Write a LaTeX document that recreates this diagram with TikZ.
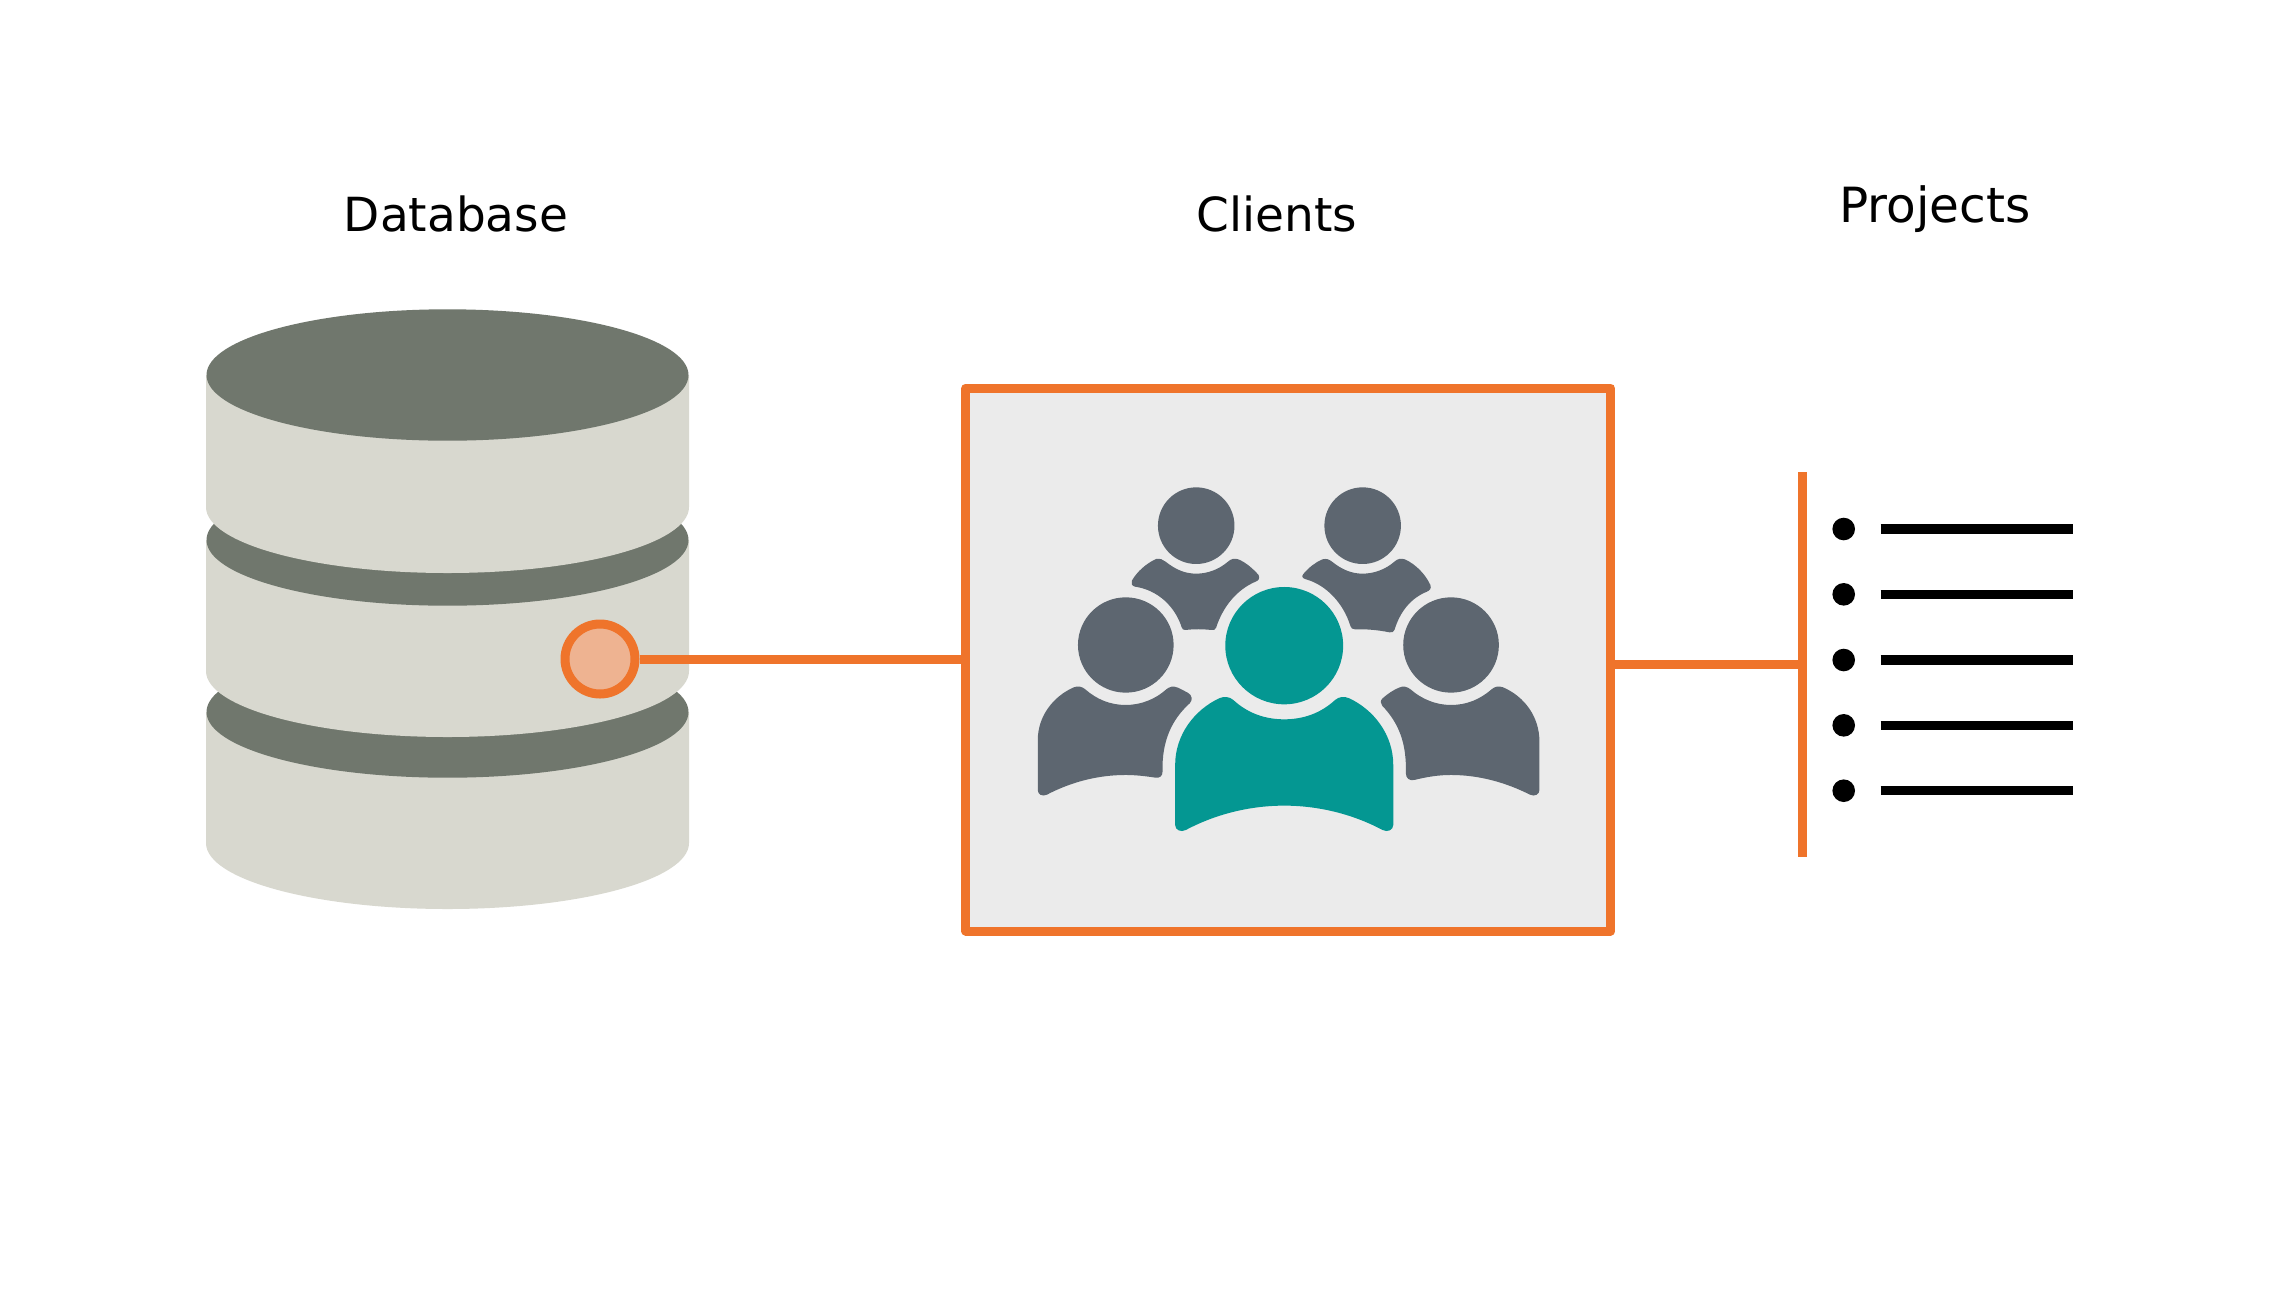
\documentclass[tikz,border=0pt]{standalone}
\usepackage{fontspec}
\setmainfont{DejaVu Sans}
\definecolor{orangeC}{HTML}{EF742B}
\definecolor{peach}{HTML}{EEB391}
\definecolor{dark}{HTML}{70776D}
\definecolor{pale}{HTML}{D8D8CF}
\definecolor{panel}{HTML}{EBEBEB}
\definecolor{slateC}{HTML}{5D6670}
\definecolor{tealC}{HTML}{049792}
\tikzset{
 title/.style={font=\fontsize{47}{56}\selectfont,text=black,inner sep=0pt,anchor=base},
 wire/.style={draw=orangeC,line width=9pt},
 bulletdot/.style={circle,fill=black,minimum size=22.6pt,inner sep=0pt},
 rowline/.style={draw=black,line width=9.4pt},
 diskbody/.style={fill=pale},
 disktop/.style={fill=dark},
}
\newcommand{\disk}[2]{% top centre y, bottom centre y
 \fill[diskbody] (206,#1) -- (206,#2) arc [start angle=180,end angle=0,x radius=241.5,y radius=66] -- (689,#1) -- cycle;
 \fill[disktop] (447.5,#1) ellipse [x radius=241,y radius=65.7];
}
\begin{document}
\begin{tikzpicture}[x=1pt,y=-1pt]
\useasboundingbox (0,0) rectangle (2290,1288);
\fill[white] (0,0) rectangle (2290,1288);
% database
\disk{712}{843}
\disk{540}{671}
\disk{375}{507}
\node[title] (tdb) at (456,231) {Database};
\node[title] (tcl) at (1277,231) {Clients};
\node[title,font=\fontsize{48.5}{58}\selectfont] (tpr) at (1935,222) {Projects};
% clients box
\node[draw=orangeC,fill=panel,line width=9pt,line join=round,minimum width=644.7pt,minimum height=543pt,inner sep=0pt] (clients) at (1288.3,659.5) {};
% people
\begin{scope}[shift={(980,460)},x=0.38265pt,y=-0.3333pt]
\fill[slateC] (565,197) ellipse [x radius=100,y radius=115];
\fill[slateC] (1000,197) ellipse [x radius=100,y radius=115];
\fill[slateC] (381,555) ellipse [x radius=125,y radius=143];
\fill[slateC] (1231,555) ellipse [x radius=125,y radius=143];
\fill[tealC] (795,557) ellipse [x radius=154,y radius=176];
% back left
\fill[slateC] (397,362) .. controls (410,335) and (435,310) .. (460,297) .. controls (470,295) and (478,298) .. (485,305)
 .. controls (510,328) and (535,341) .. (565,341) .. controls (595,341) and (625,328) .. (648,305) .. controls (655,297) and (665,294) .. (675,298)
 .. controls (695,307) and (715,328) .. (728,345) .. controls (732,355) and (728,362) .. (720,365)
 .. controls (670,390) and (635,440) .. (617,503) .. controls (615,510) and (610,511) .. (605,510)
 .. controls (580,507) and (560,507) .. (537,510) .. controls (532,511) and (528,507) .. (527,502)
 .. controls (510,440) and (465,390) .. (405,380) .. controls (397,378) and (394,370) .. (397,362) -- cycle;
% back right
\fill[slateC] (845,342) .. controls (860,322) and (875,308) .. (895,298) .. controls (905,295) and (912,298) .. (920,305)
 .. controls (945,328) and (970,341) .. (1000,341) .. controls (1030,341) and (1060,328) .. (1083,305) .. controls (1090,297) and (1100,294) .. (1110,298)
 .. controls (1140,313) and (1165,345) .. (1177,375) .. controls (1180,385) and (1176,391) .. (1168,395)
 .. controls (1125,415) and (1098,455) .. (1083,510) .. controls (1081,516) and (1077,518) .. (1070,517)
 .. controls (1040,510) and (1010,507) .. (980,508) .. controls (973,508) and (970,505) .. (968,498)
 .. controls (950,430) and (905,375) .. (852,358) .. controls (842,355) and (840,350) .. (845,342) -- cycle;
% left
\fill[slateC] (151,840) .. controls (151,770) and (190,710) .. (245,682) .. controls (257,677) and (267,680) .. (275,688)
 .. controls (305,718) and (340,735) .. (381,735) .. controls (420,735) and (458,718) .. (487,688) .. controls (495,680) and (505,677) .. (517,683)
 -- (543,698) .. controls (554,705) and (557,720) .. (548,730)
 .. controls (500,780) and (475,845) .. (477,935) .. controls (477,948) and (470,955) .. (458,953)
 .. controls (430,948) and (405,945) .. (381,945) .. controls (310,945) and (240,965) .. (175,1004)
 .. controls (162,1011) and (151,1003) .. (151,990) -- cycle;
% right
\fill[slateC] (1462,845) .. controls (1462,770) and (1423,710) .. (1367,682) .. controls (1355,677) and (1345,680) .. (1337,688)
 .. controls (1307,718) and (1272,735) .. (1231,735) .. controls (1192,735) and (1155,718) .. (1125,688) .. controls (1117,680) and (1105,677) .. (1095,683)
 .. controls (1080,690) and (1065,702) .. (1052,715) .. controls (1046,722) and (1046,730) .. (1051,737)
 .. controls (1095,790) and (1115,850) .. (1113,940) .. controls (1113,955) and (1122,963) .. (1135,960)
 .. controls (1170,950) and (1200,945) .. (1231,945) .. controls (1305,945) and (1375,968) .. (1437,1004)
 .. controls (1450,1011) and (1462,1003) .. (1462,990) -- cycle;
% front
\fill[tealC] (510,915) .. controls (510,825) and (560,750) .. (625,715) .. controls (638,708) and (652,710) .. (662,720)
 .. controls (700,760) and (745,778) .. (795,778) .. controls (845,778) and (890,760) .. (928,720) .. controls (938,710) and (952,708) .. (965,715)
 .. controls (1030,750) and (1080,825) .. (1080,915) -- (1080,1095) .. controls (1080,1110) and (1065,1118) .. (1052,1110)
 .. controls (970,1060) and (880,1037) .. (795,1037) .. controls (710,1037) and (620,1060) .. (538,1110)
 .. controls (525,1118) and (510,1110) .. (510,1095) -- cycle;
\end{scope}
% port and connectors
\node[circle,draw=orangeC,fill=peach,line width=9pt,minimum size=70pt,inner sep=0pt] (port) at (600,659) {};
\draw[wire] (port.east) -- (port.east -| clients.west);
\coordinate (bartop) at (1802.7,472);
\coordinate (barbot) at (1802.7,857);
\coordinate (barmid) at (1802.7,664.3);
\draw[wire,line width=9.4pt] (bartop) -- (barbot);
\draw[wire,line width=9.4pt] (clients.east |- barmid) -- (barmid);
% bullets
\foreach \n/\y in {a/529,b/594.3,c/660,d/725.3,e/790.7}{
 \node[bulletdot] (dot\n) at (1843.7,\y) {};
 \coordinate (ls\n) at (1880.7,\y);
 \coordinate (le\n) at (2073,\y);
 \draw[rowline] (ls\n) -- (le\n);
}
\end{tikzpicture}
\end{document}
